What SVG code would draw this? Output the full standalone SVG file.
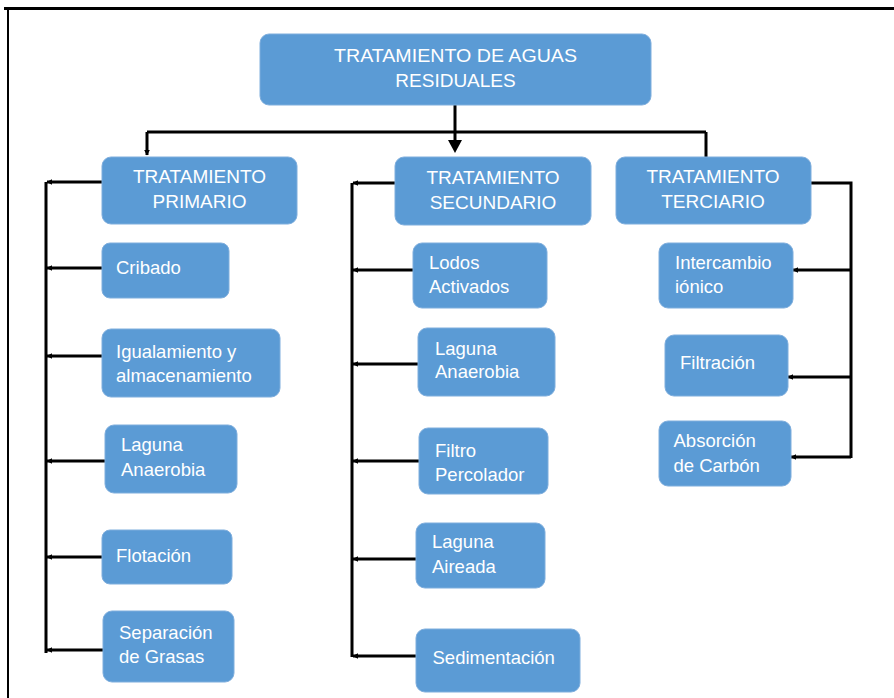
<svg xmlns="http://www.w3.org/2000/svg" width="894" height="698" viewBox="0 0 894 698">
<style>
.box{fill:#5B9BD5;stroke:#7FAEDD;stroke-width:1}
.t{font-family:"Liberation Sans",Arial,sans-serif;font-size:18.5px;fill:#FFFFFF}
.h{font-family:"Liberation Sans",Arial,sans-serif;font-size:19px;fill:#FFFFFF;text-anchor:middle}
.c{fill:none;stroke:#000000;stroke-width:3}
.frame{stroke:#000000;fill:none}
</style>
<defs>
<marker id="a" viewBox="0 0 10 10" refX="9" refY="5" markerWidth="6" markerHeight="6" markerUnits="userSpaceOnUse" orient="auto">
<path d="M0,0 L10,5 L0,10 z" fill="#000"/>
</marker>
</defs>
<rect width="894" height="698" fill="#FFFFFF"/>
<path class="frame" d="M4,8.5 H894" stroke-width="3"/>
<path class="frame" d="M8,8 V698" stroke-width="2"/>

<g id="connectors">
<path class="c" d="M455,105 V142" stroke-width="6"/>
<path d="M448,140 L462,140 L455,153 z" fill="#000"/>
<path class="c" d="M147,132 H706"/>
<path class="c" d="M147,132 V155" marker-end="url(#a)"/>
<path class="c" d="M706,132 V157"/>
<path class="c" d="M102,182 H47" marker-end="url(#a)"/>
<path class="c" d="M46,182 V653"/>
<path class="c" d="M102,268 H47" marker-end="url(#a)"/>
<path class="c" d="M102,356 H47" marker-end="url(#a)"/>
<path class="c" d="M105,461 H47" marker-end="url(#a)"/>
<path class="c" d="M102,557 H47" marker-end="url(#a)"/>
<path class="c" d="M103,650 H47" marker-end="url(#a)"/>
<path class="c" d="M395,183 H353" marker-end="url(#a)"/>
<path class="c" d="M352,183 V657"/>
<path class="c" d="M413,270 H353" marker-end="url(#a)"/>
<path class="c" d="M418,364 H353" marker-end="url(#a)"/>
<path class="c" d="M419,461 H353" marker-end="url(#a)"/>
<path class="c" d="M416,559 H353" marker-end="url(#a)"/>
<path class="c" d="M416,656 H353" marker-end="url(#a)"/>
<path class="c" d="M811,183 H851 V458"/>
<path class="c" d="M851,270 H793" marker-end="url(#a)"/>
<path class="c" d="M851,377 H788" marker-end="url(#a)"/>
<path class="c" d="M851,457 H791" marker-end="url(#a)"/>
</g>

<g id="root">
<rect class="box" x="260" y="34" width="391" height="71" rx="9"/>
<text class="h" x="455.5" y="62" textLength="243" lengthAdjust="spacingAndGlyphs">TRATAMIENTO DE AGUAS</text>
<text class="h" x="455.5" y="87">RESIDUALES</text>
</g>
<g id="primario">
<rect class="box" x="102" y="157" width="195" height="67" rx="9"/>
<text class="h" x="199.5" y="183">TRATAMIENTO</text>
<text class="h" x="199.5" y="208">PRIMARIO</text>
</g>
<g id="secundario">
<rect class="box" x="395" y="157" width="196" height="68" rx="9"/>
<text class="h" x="493" y="183.5">TRATAMIENTO</text>
<text class="h" x="493" y="208.5">SECUNDARIO</text>
</g>
<g id="terciario">
<rect class="box" x="616" y="157" width="195" height="67" rx="9"/>
<text class="h" x="713" y="183">TRATAMIENTO</text>
<text class="h" x="713" y="208">TERCIARIO</text>
</g>

<g id="cribado">
<rect class="box" x="102" y="243" width="127" height="55" rx="8"/>
<text class="t" x="116" y="274">Cribado</text>
</g>
<g id="igualamiento">
<rect class="box" x="102" y="329" width="178" height="68" rx="9"/>
<text class="t" x="116" y="358">Igualamiento y</text>
<text class="t" x="116" y="382">almacenamiento</text>
</g>
<g id="laguna-anaerobia-1">
<rect class="box" x="105" y="425" width="132" height="68" rx="9"/>
<text class="t" x="121" y="451">Laguna</text>
<text class="t" x="121" y="476">Anaerobia</text>
</g>
<g id="flotacion">
<rect class="box" x="102" y="530" width="130" height="54" rx="8"/>
<text class="t" x="116" y="562">Flotación</text>
</g>
<g id="separacion">
<rect class="box" x="103" y="611" width="131" height="71" rx="9"/>
<text class="t" x="119" y="639">Separación</text>
<text class="t" x="119" y="663">de Grasas</text>
</g>

<g id="lodos">
<rect class="box" x="413" y="243" width="134" height="65" rx="9"/>
<text class="t" x="429" y="269">Lodos</text>
<text class="t" x="429" y="293">Activados</text>
</g>
<g id="laguna-anaerobia-2">
<rect class="box" x="418" y="328" width="137" height="68" rx="9"/>
<text class="t" x="435" y="355">Laguna</text>
<text class="t" x="435" y="378">Anaerobia</text>
</g>
<g id="filtro">
<rect class="box" x="419" y="428" width="129" height="66" rx="9"/>
<text class="t" x="435" y="457">Filtro</text>
<text class="t" x="435" y="481">Percolador</text>
</g>
<g id="laguna-aireada">
<rect class="box" x="416" y="523" width="129" height="65" rx="9"/>
<text class="t" x="432" y="548">Laguna</text>
<text class="t" x="432" y="573">Aireada</text>
</g>
<g id="sedimentacion">
<rect class="box" x="416" y="629" width="164" height="63" rx="9"/>
<text class="t" x="432.5" y="664">Sedimentación</text>
</g>

<g id="intercambio">
<rect class="box" x="659" y="243" width="134" height="65" rx="9"/>
<text class="t" x="675" y="269">Intercambio</text>
<text class="t" x="675" y="293">iónico</text>
</g>
<g id="filtracion">
<rect class="box" x="665" y="335" width="123" height="61" rx="9"/>
<text class="t" x="680" y="369">Filtración</text>
</g>
<g id="absorcion">
<rect class="box" x="659" y="421" width="132" height="65" rx="9"/>
<text class="t" x="673.5" y="447">Absorción</text>
<text class="t" x="673.5" y="472">de Carbón</text>
</g>
</svg>
